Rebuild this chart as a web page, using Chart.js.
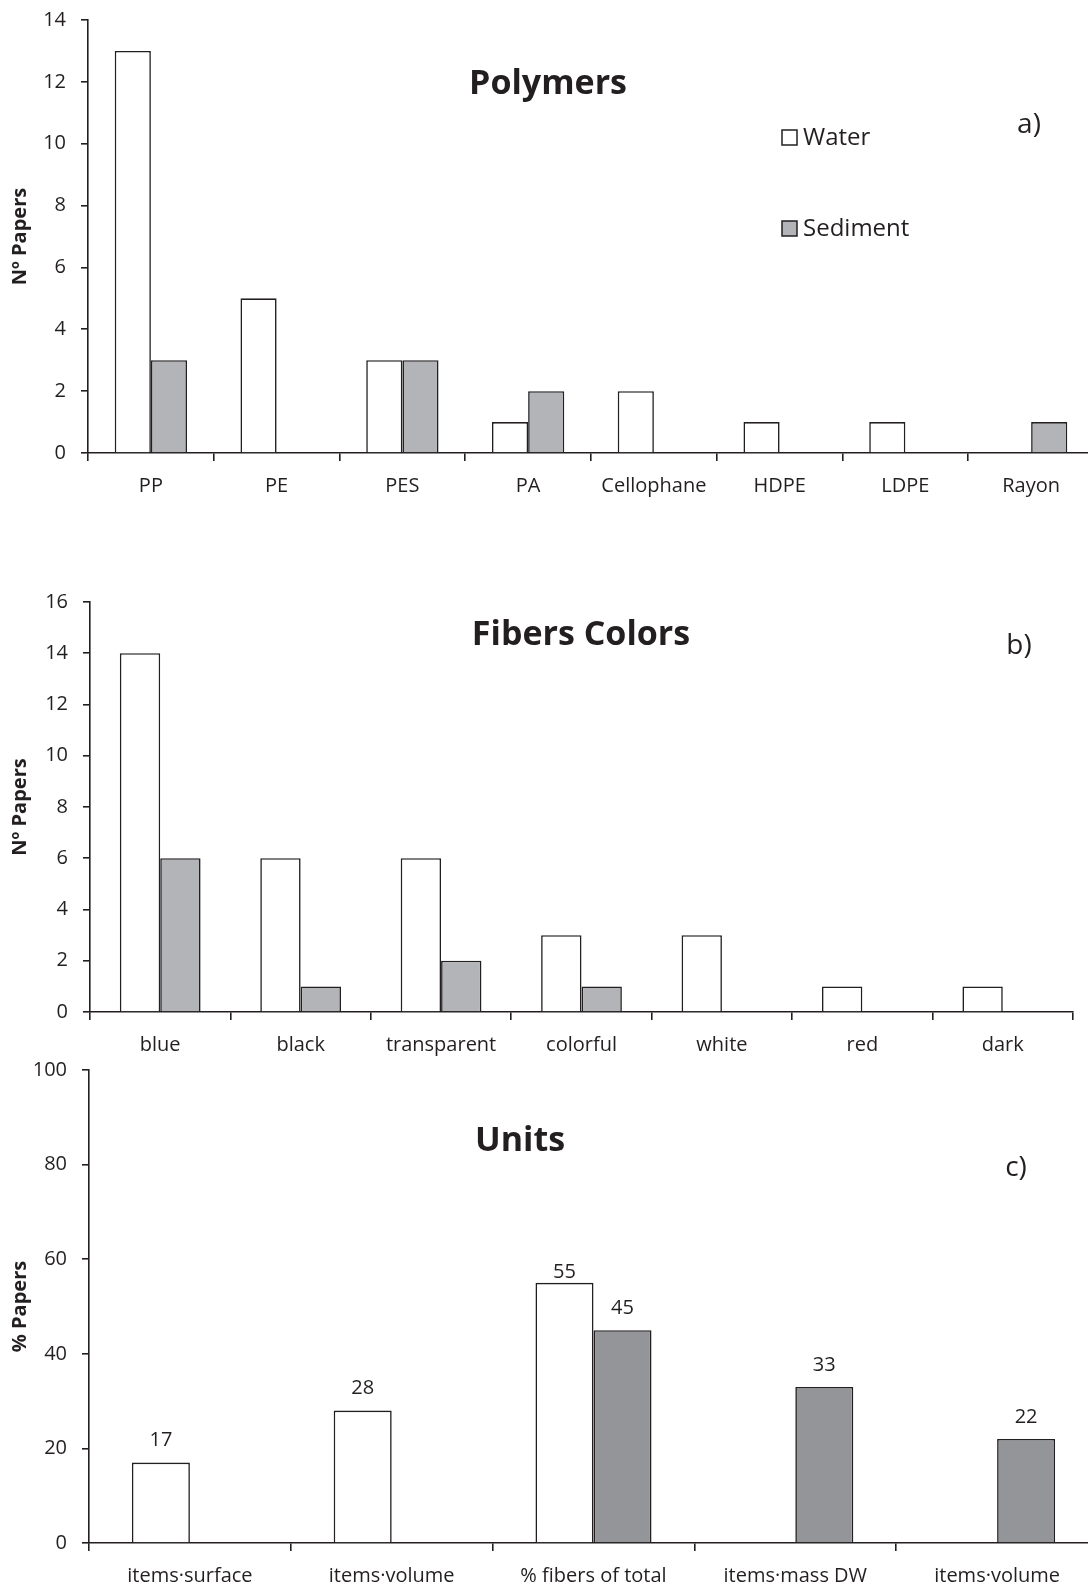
<!DOCTYPE html>
<html>
<head>
<meta charset="utf-8">
<title>Polymers, fibers colors and units</title>
<script src="https://cdn.jsdelivr.net/npm/chart.js@4.4.0/dist/chart.umd.min.js"></script>
<style>
    html, body {
        margin: 0;
        padding: 0;
        background: #ffffff;
        width: 1088px;
        height: 1583px;
        overflow: hidden;
    }
    .panel {
        position: absolute;
        left: 0;
        top: 0;
    }
</style>
</head>
<body>
<canvas id="chart-a" class="panel" width="1100" height="1583"></canvas>
<canvas id="chart-b" class="panel" width="1100" height="1583"></canvas>
<canvas id="chart-c" class="panel" width="1100" height="1583"></canvas>

<script>
// Panel a) polymers
const polymerLabels = ['PP', 'PE', 'PES', 'PA', 'Cellophane', 'HDPE', 'LDPE', 'Rayon'];
const polymerWater = [13, 5, 3, 1, 2, 1, 1, 0];
const polymerSediment = [3, 0, 3, 2, 0, 0, 0, 1];

// Panel b) fibers colors
const colorLabels = ['blue', 'black', 'transparent', 'colorful', 'white', 'red', 'dark'];
const colorWater = [14, 6, 6, 3, 3, 1, 1];
const colorSediment = [6, 1, 2, 1, 0, 0, 0];

// Panel c) units
const unitLabels = ['items\u00b7surface', 'items\u00b7volume', '% fibers of total', 'items\u00b7mass DW', 'items\u00b7volume'];
const unitWater = [17, 28, 55, 0, 0];
const unitSediment = [0, 0, 45, 33, 22];

const INK = '#231f20';
const LIGHT_GREY = '#b2b4b7';
const DARK_GREY = '#949598';
const PAGE_H = 1583;

Chart.defaults.font.family = "'Open Sans', sans-serif";
Chart.defaults.font.size = 20;
Chart.defaults.color = INK;

// Draws the big title, the panel letter and (optionally) the legend
const decorPlugin = {
    id: 'decor',
    afterDraw(chart, args, opts) {
        const ctx = chart.ctx;
        ctx.save();
        ctx.fillStyle = INK;
        ctx.textAlign = 'center';
        ctx.textBaseline = 'middle';

        ctx.font = "bold 34px 'Open Sans', sans-serif";
        ctx.fillText(opts.title, opts.titleX, opts.titleY);

        ctx.font = "28px 'Open Sans', sans-serif";
        ctx.fillText(opts.letter, opts.letterX, opts.letterY);

        if (opts.legend) {
            const items = [
                { text: 'Water', fill: '#ffffff', y: 138 },
                { text: 'Sediment', fill: LIGHT_GREY, y: 229 }
            ];
            ctx.textAlign = 'left';
            ctx.font = "24px 'Open Sans', sans-serif";
            items.forEach(item => {
                ctx.fillStyle = item.fill;
                ctx.fillRect(782, item.y - 8, 15, 15);
                ctx.strokeStyle = INK;
                ctx.lineWidth = 1.5;
                ctx.strokeRect(782, item.y - 8, 15, 15);
                ctx.fillStyle = INK;
                ctx.fillText(item.text, 803, item.y);
            });
        }
        ctx.restore();
    }
};

// Value labels above the bars (only used on the units panel)
const valueLabelPlugin = {
    id: 'valueLabels',
    afterDatasetsDraw(chart, args, opts) {
        if (!opts.show) return;
        const ctx = chart.ctx;
        const sets = chart.data.datasets;
        ctx.save();
        ctx.fillStyle = INK;
        ctx.font = "20px 'Open Sans', sans-serif";
        ctx.textAlign = 'center';
        ctx.textBaseline = 'middle';
        sets.forEach((ds, i) => {
            const meta = chart.getDatasetMeta(i);
            meta.data.forEach((bar, j) => {
                const v = ds.data[j];
                if (v > 0) {
                    // the taller bar of a pair keeps its label tight to the bar
                    const pair = sets.every(s => s.data[j] > 0);
                    const tallest = sets.every(s => s.data[j] <= v);
                    const gap = (pair && tallest) ? 11 : 22;
                    ctx.fillText(String(v), bar.x, bar.y - gap);
                }
            });
        });
        ctx.restore();
    }
};

function makePanel(canvasId, cfg) {
    const ctx = document.getElementById(canvasId);
    return new Chart(ctx, {
        type: 'bar',
        data: {
            labels: cfg.labels,
            datasets: [{
                label: 'Water',
                data: cfg.water,
                backgroundColor: '#ffffff',
                borderColor: INK,
                borderWidth: 1.6,
                categoryPercentage: 0.575,
                barPercentage: 1.0
            }, {
                label: 'Sediment',
                data: cfg.sediment,
                backgroundColor: cfg.grey,
                borderColor: INK,
                borderWidth: 1.6,
                categoryPercentage: 0.575,
                barPercentage: 1.0
            }]
        },
        options: {
            responsive: false,
            animation: false,
            events: [],
            layout: {
                padding: { top: cfg.top, left: 0, right: 1100 - cfg.right, bottom: 0 }
            },
            plugins: {
                legend: { display: false },
                tooltip: { enabled: false },
                decor: cfg.decor,
                valueLabels: { show: cfg.values }
            },
            scales: {
                x: {
                    afterFit: function(scale) { scale.height = PAGE_H - cfg.bottom; },
                    border: { color: INK, width: 1.6 },
                    grid: {
                        offset: true,
                        drawOnChartArea: false,
                        color: INK,
                        lineWidth: 1.6,
                        tickLength: 8
                    },
                    ticks: { padding: 13, maxRotation: 0, autoSkip: false }
                },
                y: {
                    min: 0,
                    max: cfg.max,
                    afterFit: function(scale) {
                        scale.width = cfg.left;
                        // let the chart area start exactly at the top padding
                        scale.paddingTop = 0;
                        scale.paddingBottom = 0;
                    },
                    border: { color: INK, width: 1.6 },
                    grid: {
                        drawOnChartArea: false,
                        color: INK,
                        lineWidth: 1.6,
                        tickLength: 7
                    },
                    ticks: { stepSize: cfg.step, padding: 15 },
                    title: {
                        display: true,
                        text: cfg.yTitle,
                        font: { weight: 'bold', size: 20 },
                        padding: { top: 8, bottom: 0 }
                    }
                }
            }
        },
        plugins: [decorPlugin, valueLabelPlugin]
    });
}

document.addEventListener('DOMContentLoaded', function() {
    makePanel('chart-a', {
        labels: polymerLabels,
        water: polymerWater,
        sediment: polymerSediment,
        grey: LIGHT_GREY,
        top: 20, bottom: 453, left: 88, right: 1094,
        max: 14, step: 2,
        yTitle: 'N\u00ba Papers',
        values: false,
        decor: {
            title: 'Polymers', titleX: 548, titleY: 84,
            letter: 'a)', letterX: 1029, letterY: 125,
            legend: true
        }
    });

    makePanel('chart-b', {
        labels: colorLabels,
        water: colorWater,
        sediment: colorSediment,
        grey: LIGHT_GREY,
        top: 602, bottom: 1012, left: 90, right: 1073,
        max: 16, step: 2,
        yTitle: 'N\u00ba Papers',
        values: false,
        decor: {
            title: 'Fibers Colors', titleX: 581, titleY: 635,
            letter: 'b)', letterX: 1019, letterY: 646,
            legend: false
        }
    });

    makePanel('chart-c', {
        labels: unitLabels,
        water: unitWater,
        sediment: unitSediment,
        grey: DARK_GREY,
        top: 1070, bottom: 1543, left: 89, right: 1098,
        max: 100, step: 20,
        yTitle: '% Papers',
        values: true,
        decor: {
            title: 'Units', titleX: 520, titleY: 1141,
            letter: 'c)', letterX: 1016, letterY: 1168,
            legend: false
        }
    });
});
</script>
</body>
</html>
